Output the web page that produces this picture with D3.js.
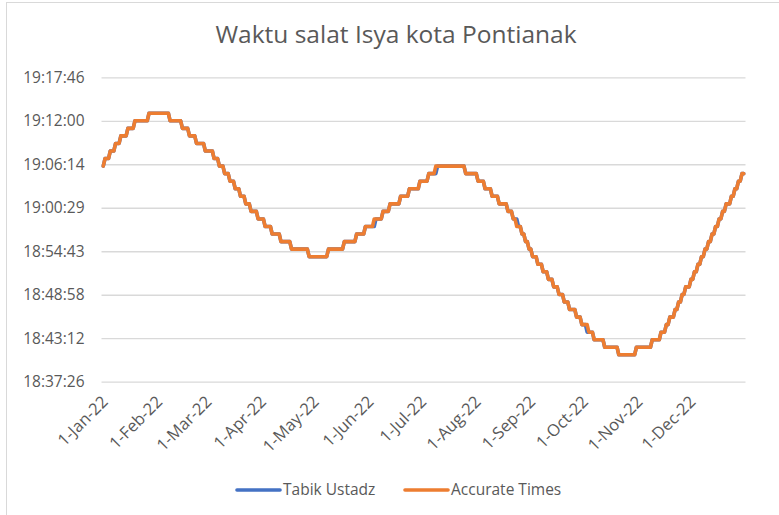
<!DOCTYPE html>
<html>
<head>
<meta charset="utf-8">
<script src="https://cdn.jsdelivr.net/npm/d3@7"></script>
<style>
  html, body { margin: 0; padding: 0; background: #fff; }
  svg { display: block; }
</style>
</head>
<body>
<div id="chart"></div>
<script>
// Isya times, as [time, number of days] runs from 1 Jan 2022.
const accurateRuns = [
  ["19:06", 1], ["19:07", 3], ["19:08", 3], ["19:09", 3], ["19:10", 4], ["19:11", 4],
  ["19:12", 8], ["19:13", 12], ["19:12", 7], ["19:11", 4], ["19:10", 4], ["19:09", 5],
  ["19:08", 5], ["19:07", 3], ["19:06", 3], ["19:05", 3], ["19:04", 3], ["19:03", 3],
  ["19:02", 3], ["19:01", 3], ["19:00", 4], ["18:59", 4], ["18:58", 4], ["18:57", 5],
  ["18:56", 6], ["18:55", 10], ["18:54", 11], ["18:55", 9], ["18:56", 7], ["18:57", 5],
  ["18:58", 5], ["18:59", 5], ["19:00", 4], ["19:01", 6], ["19:02", 5], ["19:03", 6],
  ["19:04", 5], ["19:05", 4], ["19:06", 17], ["19:05", 7], ["19:04", 4], ["19:03", 4],
  ["19:02", 4], ["19:01", 5], ["19:00", 3], ["18:59", 2], ["18:58", 3], ["18:57", 2],
  ["18:56", 2], ["18:55", 2], ["18:54", 3], ["18:53", 3], ["18:52", 3], ["18:51", 3],
  ["18:50", 3], ["18:49", 3], ["18:48", 3], ["18:47", 4], ["18:46", 3], ["18:45", 4],
  ["18:44", 3], ["18:43", 6], ["18:42", 8], ["18:41", 10], ["18:42", 9], ["18:43", 5],
  ["18:44", 3], ["18:45", 2], ["18:46", 3], ["18:47", 2], ["18:48", 2], ["18:49", 2],
  ["18:50", 3], ["18:51", 2], ["18:52", 2], ["18:53", 2], ["18:54", 2], ["18:55", 2],
  ["18:56", 2], ["18:57", 2], ["18:58", 2], ["18:59", 2], ["19:00", 2], ["19:01", 3],
  ["19:02", 2], ["19:03", 2], ["19:04", 2], ["19:05", 2]
];

const tabikRuns = [
  ["19:06", 1], ["19:07", 3], ["19:08", 3], ["19:09", 3], ["19:10", 4], ["19:11", 4],
  ["19:12", 8], ["19:13", 12], ["19:12", 7], ["19:11", 4], ["19:10", 4], ["19:09", 5],
  ["19:08", 5], ["19:07", 3], ["19:06", 3], ["19:05", 3], ["19:04", 3], ["19:03", 3],
  ["19:02", 3], ["19:01", 3], ["19:00", 4], ["18:59", 4], ["18:58", 4], ["18:57", 5],
  ["18:56", 6], ["18:55", 10], ["18:54", 11], ["18:55", 9], ["18:56", 7], ["18:57", 5],
  ["18:58", 6], ["18:59", 4], ["19:00", 4], ["19:01", 6], ["19:02", 5], ["19:03", 6],
  ["19:04", 5], ["19:05", 5], ["19:06", 16], ["19:05", 7], ["19:04", 4], ["19:03", 4],
  ["19:02", 4], ["19:01", 5], ["19:00", 3], ["18:59", 3], ["18:58", 2], ["18:57", 2],
  ["18:56", 2], ["18:55", 2], ["18:54", 3], ["18:53", 3], ["18:52", 3], ["18:51", 3],
  ["18:50", 3], ["18:49", 3], ["18:48", 3], ["18:47", 4], ["18:46", 3], ["18:45", 3],
  ["18:44", 4], ["18:43", 6], ["18:42", 8], ["18:41", 10], ["18:42", 9], ["18:43", 5],
  ["18:44", 3], ["18:45", 2], ["18:46", 3], ["18:47", 2], ["18:48", 2], ["18:49", 2],
  ["18:50", 3], ["18:51", 2], ["18:52", 2], ["18:53", 2], ["18:54", 2], ["18:55", 2],
  ["18:56", 2], ["18:57", 2], ["18:58", 2], ["18:59", 2], ["19:00", 2], ["19:01", 3],
  ["19:02", 2], ["19:03", 2], ["19:04", 2], ["19:05", 2]
];

const seriesNames = ["Tabik Ustadz", "Accurate Times"];
const seriesColors = ["#4472C4", "#ED7D31"];

// Excel's auto axis: 0.776 .. 0.804 of a day, step 0.004.
const yTickDays = [0.776, 0.780, 0.784, 0.788, 0.792, 0.796, 0.800, 0.804];
const xTickDates = d3.range(0, 12).map(m => new Date(2022, m, 1));

const startDate = new Date(2022, 0, 1);

// Turn the runs into one point per day.
function expand(runs) {
    const out = [];
    runs.forEach(([time, days]) => {
        const [h, m] = time.split(":").map(Number);
        for (let i = 0; i < days; i++) {
            out.push({ date: d3.timeDay.offset(startDate, out.length), secs: h * 3600 + m * 60 });
        }
    });
    return out;
}
const series = [expand(tabikRuns), expand(accurateRuns)];

const width = 779;
const height = 515;
const plotLeft = 101.5;
const plotRight = 745.5;
const plotTop = 77.3;
const plotBottom = 381.7;
const textColor = "#595959";
const gridColor = "#d9d9d9";
const fontFamily = "'Open Sans', 'Noto Sans', sans-serif";

const svg = d3.select("#chart")
    .append("svg")
    .attr("width", width)
    .attr("height", height)
    .attr("viewBox", [0, 0, width, height])
    .attr("font-family", fontFamily);

// Chart area border (the screenshot cuts it off at right and bottom).
svg.append("rect")
    .attr("x", 6.5).attr("y", 2.5)
    .attr("width", width + 20).attr("height", height + 20)
    .attr("fill", "#fff")
    .attr("stroke", gridColor);

const x = d3.scaleTime()
    .domain([new Date(2021, 11, 31), new Date(2023, 0, 1)])
    .range([plotLeft, plotRight]);

const y = d3.scaleLinear()
    .domain([yTickDays[0] * 86400, yTickDays[yTickDays.length - 1] * 86400])
    .range([plotBottom, plotTop]);

function fmtTime(dayFrac) {
    const s = Math.round(dayFrac * 86400);
    const hh = Math.floor(s / 3600), mm = Math.floor(s % 3600 / 60), ss = s % 60;
    return `${hh}:${String(mm).padStart(2, "0")}:${String(ss).padStart(2, "0")}`;
}

// Gridlines and y labels.
const yAxis = d3.axisLeft(y)
    .tickValues(yTickDays.map(d => d * 86400))
    .tickSize(-(plotRight - plotLeft))
    .tickPadding(17)
    .tickFormat(v => fmtTime(v / 86400));

svg.append("g")
    .attr("transform", `translate(${plotLeft},0)`)
    .call(yAxis)
    .call(g => g.select(".domain").remove())
    .call(g => g.selectAll(".tick line").attr("stroke", gridColor).attr("stroke-width", 1.3))
    .call(g => g.selectAll(".tick text")
        .attr("fill", textColor)
        .attr("font-size", 15.5)
        .attr("font-family", fontFamily));

// Date axis with rotated labels.
const xAxis = d3.axisBottom(x)
    .tickValues(xTickDates)
    .tickSize(0)
    .tickFormat(d3.timeFormat("%-d-%b-%y"));

svg.append("g")
    .attr("transform", `translate(0,${plotBottom})`)
    .call(xAxis)
    .call(g => g.select(".domain").remove())
    .call(g => g.selectAll(".tick text")
        .attr("fill", textColor)
        .attr("font-size", 16.5)
        .attr("font-family", fontFamily)
        .attr("text-anchor", "end")
        .attr("dx", 0)
        .attr("dy", 0)
        .attr("transform", "translate(3,19) rotate(-45)"));

// The two lines; Tabik first so Accurate sits on top.
const line = d3.line()
    .x(d => x(d.date))
    .y(d => y(d.secs));

svg.append("g")
    .attr("fill", "none")
    .attr("stroke-width", 3.6)
    .attr("stroke-linejoin", "round")
    .attr("stroke-linecap", "round")
    .selectAll("path")
    .data(series)
    .join("path")
        .attr("stroke", (d, i) => seriesColors[i])
        .attr("d", line);

// Title.
svg.append("text")
    .attr("x", 396)
    .attr("y", 43)
    .attr("text-anchor", "middle")
    .attr("fill", textColor)
    .attr("font-size", 24.5)
    .text("Waktu salat Isya kota Pontianak");

// Legend.
const legendX = [237, 405];
const legend = svg.append("g")
    .selectAll("g")
    .data(seriesNames)
    .join("g")
        .attr("transform", (d, i) => `translate(${legendX[i]},490)`);
legend.append("line")
    .attr("x1", 0).attr("x2", 43)
    .attr("stroke", (d, i) => seriesColors[i])
    .attr("stroke-width", 3.6)
    .attr("stroke-linecap", "round");
legend.append("text")
    .attr("x", 46)
    .attr("dy", "0.35em")
    .attr("fill", textColor)
    .attr("font-size", 15.5)
    .text(d => d);
</script>
</body>
</html>
